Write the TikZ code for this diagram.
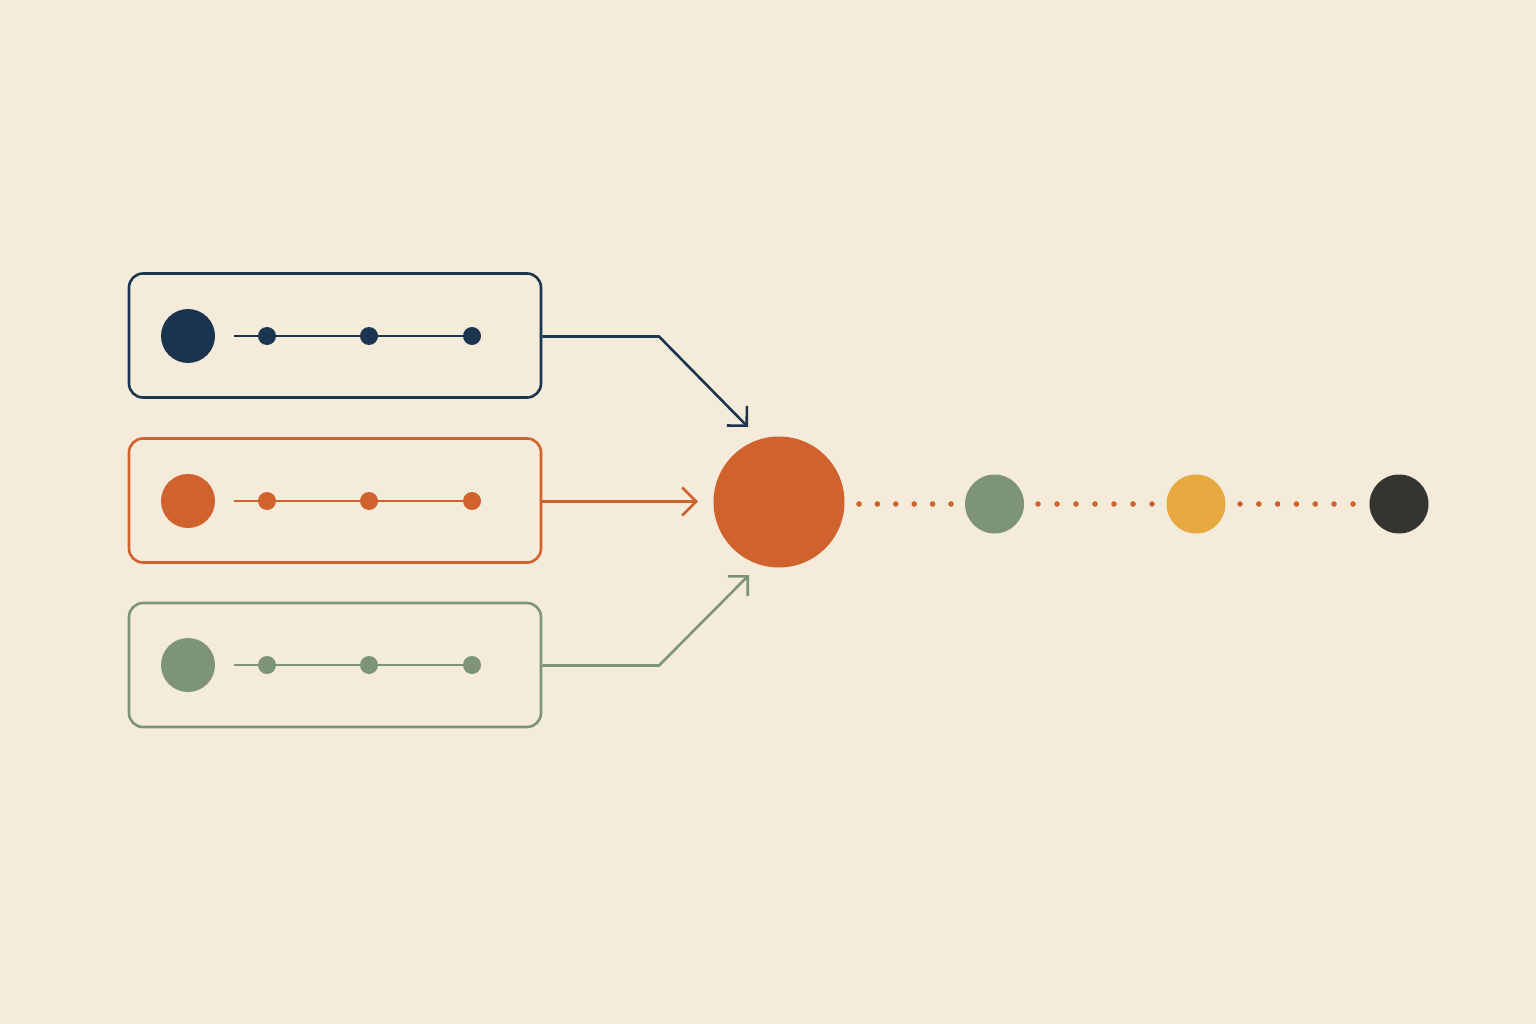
\documentclass[tikz,border=0pt]{standalone}
\usetikzlibrary{arrows.meta}
\definecolor{bg}{HTML}{F4EBDB}
\definecolor{navy}{HTML}{1B3550}
\definecolor{orng}{HTML}{D0622D}
\definecolor{sage}{HTML}{7E9478}
\definecolor{gold}{HTML}{E6A93F}
\definecolor{charc}{HTML}{363431}
\tikzset{
  card/.style={draw=#1, line width=2.6pt, rounded corners=14pt, minimum width=412pt, minimum height=124pt, inner sep=0pt},
  bigdot/.style={circle, fill=#1, inner sep=0pt, minimum size=54pt},
  smalldot/.style={circle, fill=#1, inner sep=0pt, minimum size=18pt},
  track/.style={draw=#1, line width=2.6pt},
  conn/.style={draw=#1, line width=2.6pt, -{Straight Barb[length=14pt,width=28pt]}},
  hub/.style={circle, fill=orng, inner sep=0pt, minimum size=131pt},
  stop/.style={circle, fill=#1, inner sep=0pt, minimum size=59pt},
}
\begin{document}
\begin{tikzpicture}[x=1pt,y=-1pt]
\fill[bg] (0,0) rectangle (1536,1024);
\useasboundingbox (0,0) rectangle (1536,1024);

% cards
\node[card=navy] (cardA) at (335,335.5) {};
\node[card=orng] (cardB) at (335,500.5) {};
\node[card=sage] (cardC) at (335,665) {};

% card contents
\foreach \c/\y/\n in {navy/336/ra, orng/501/rb, sage/665/rc}{
  \node[bigdot=\c] (\n0) at (188,\y) {};
  \coordinate (\n s) at (234,\y);
  \node[smalldot=\c] (\n1) at (267,\y) {};
  \node[smalldot=\c] (\n2) at (369,\y) {};
  \node[smalldot=\c] (\n3) at (472,\y) {};
  \draw[track=\c] (\n s) -- (\n3.center);
}

% hub and stops
\node[hub] (hub) at (779,502) {};
\node[stop=sage] (s1) at (994.5,504) {};
\node[stop=gold] (s2) at (1196,504) {};
\node[stop=charc] (s3) at (1399,504) {};

% connectors
\coordinate (k1) at (659,336.5);
\coordinate (t1) at (748,427);
\coordinate (t2) at (698,501.5);
\coordinate (k3) at (659,665.5);
\coordinate (t3) at (749,575);
\draw[conn=navy] (cardA.east |- k1) -- (k1) -- (t1);
\draw[conn=orng] (cardB.east |- t2) -- (t2);
\draw[conn=sage] (cardC.east |- k3) -- (k3) -- (t3);

% dotted links
\foreach \x in {859,877.4,895.8,914.2,932.6,951}{\fill[orng] (\x,504) circle (2.8pt);}
\foreach \x in {1038,1057,1076,1095,1114,1133,1152}{\fill[orng] (\x,504) circle (2.8pt);}
\foreach \x in {1240,1258.8,1277.6,1296.4,1315.2,1334,1353}{\fill[orng] (\x,504) circle (2.8pt);}
\end{tikzpicture}
\end{document}
